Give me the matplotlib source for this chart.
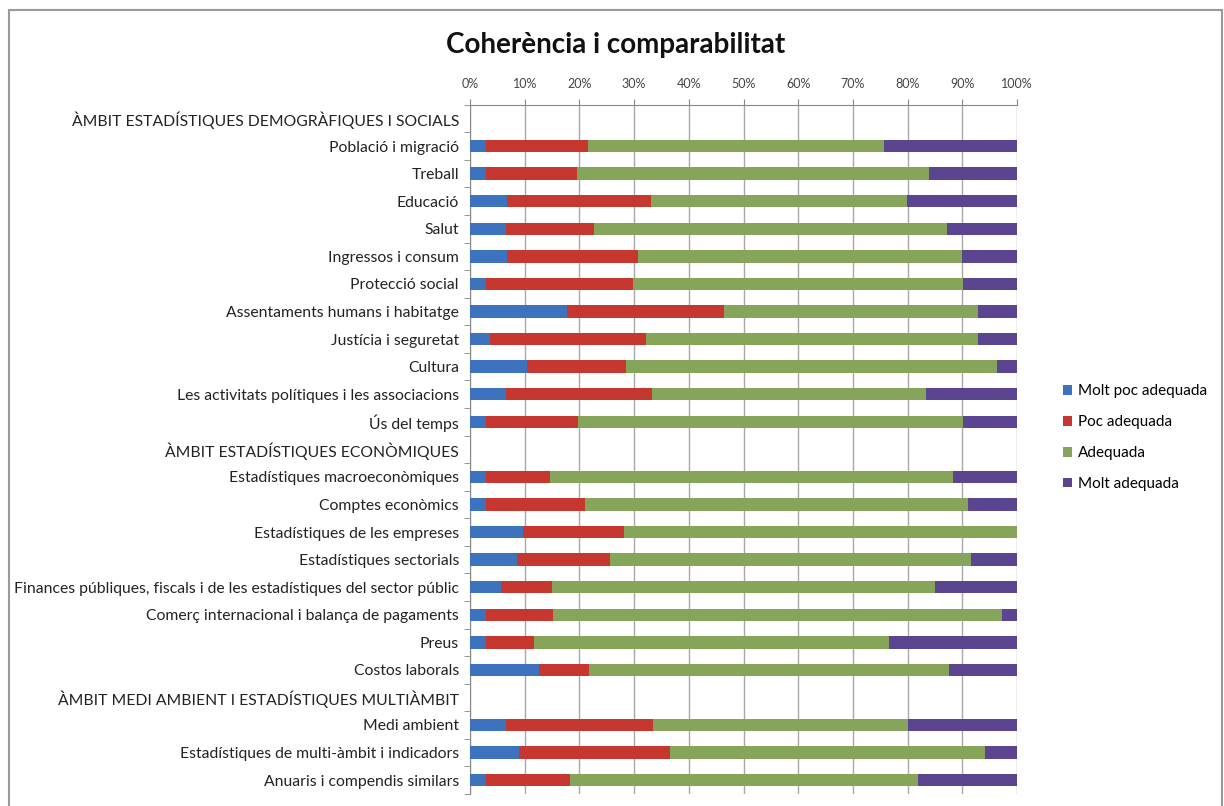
import numpy as np
import matplotlib.pyplot as plt
from matplotlib.patches import Rectangle

plt.rcParams['font.family'] = ['Lato', 'DejaVu Sans']

# rows top to bottom; headers have no bars (None)
categories = [
    "ÀMBIT ESTADÍSTIQUES DEMOGRÀFIQUES I SOCIALS",
    "Població i migració",
    "Treball",
    "Educació",
    "Salut",
    "Ingressos i consum",
    "Protecció social",
    "Assentaments humans i habitatge",
    "Justícia i seguretat",
    "Cultura",
    "Les activitats polítiques i les associacions",
    "Ús del temps",
    "ÀMBIT ESTADÍSTIQUES ECONÒMIQUES",
    "Estadístiques macroeconòmiques",
    "Comptes econòmics",
    "Estadístiques de les empreses",
    "Estadístiques sectorials",
    "Finances públiques, fiscals i de les estadístiques del sector públic",
    "Comerç internacional i balança de pagaments",
    "Preus",
    "Costos laborals",
    "ÀMBIT MEDI AMBIENT I ESTADÍSTIQUES MULTIÀMBIT",
    "Medi ambient",
    "Estadístiques de multi-àmbit i indicadors",
    "Anuaris i compendis similars",
]

molt_poc = [None, 2.9, 2.9, 6.8, 6.6, 6.8, 2.9, 17.8, 3.6, 10.5, 6.6, 2.9,
            None, 2.9, 2.9, 9.7, 8.5, 5.7, 2.9, 2.9, 12.6,
            None, 6.6, 8.9, 2.9]
poc = [None, 18.7, 16.7, 26.3, 16.0, 23.9, 26.9, 28.6, 28.5, 18.1, 26.6, 16.9,
       None, 11.7, 18.2, 18.4, 17.1, 9.3, 12.3, 8.8, 9.2,
       None, 26.8, 27.6, 15.4]
adequada = [None, 54.0, 64.3, 46.8, 64.5, 59.2, 60.3, 46.4, 60.7, 67.8, 50.2, 70.3,
            None, 73.7, 70.0, 71.9, 65.9, 70.0, 82.0, 64.8, 65.8,
            None, 46.7, 57.6, 63.5]
molt_adequada = [None, 24.4, 16.1, 20.1, 12.9, 10.1, 9.9, 7.2, 7.2, 3.6, 16.6, 9.9,
                 None, 11.7, 8.9, 0.0, 8.5, 15.0, 2.8, 23.5, 12.4,
                 None, 19.9, 5.9, 18.2]

series = ["Molt poc adequada", "Poc adequada", "Adequada", "Molt adequada"]
colors = ['#3C72BE', '#C6372F', '#86A45A', '#5B4490']

fig = plt.figure(figsize=(12.24, 8.06), dpi=100)
ax = fig.add_axes([0.384, 0.015, 0.447, 0.855])

y = np.arange(len(categories))
left = np.zeros(len(categories))
for name, vals, c in zip(series, [molt_poc, poc, adequada, molt_adequada], colors):
    v = np.array([np.nan if x is None else x for x in vals], dtype=float)
    ax.barh(y, v, left=left, height=0.45, color=c, label=name, zorder=3)
    left = left + np.nan_to_num(v)

ax.set_xlim(0, 100)
ax.set_ylim(len(categories) - 0.5, -0.5)
ax.set_xticks(np.arange(0, 101, 10))
ax.set_xticklabels([f"{t}%" for t in range(0, 101, 10)], fontsize=9, color='#444444')
ax.xaxis.tick_top()
ax.tick_params(axis='x', length=4, color='#888888', pad=7)
ax.grid(axis='x', color='#a8a8a8', linewidth=1, zorder=0)

ax.set_yticks(y)
ax.set_yticklabels(categories, fontsize=11.3, color='#222222')
ax.set_yticks(np.arange(-0.5, len(categories), 1), minor=True)
ax.tick_params(axis='y', which='major', length=0, pad=8)
ax.tick_params(axis='y', which='minor', length=4, color='#888888')

for s in ['right', 'bottom']:
    ax.spines[s].set_visible(False)
ax.spines['left'].set_color('#888888')
ax.spines['top'].set_color('#888888')

fig.text(0.503, 0.944, "Coherència i comparabilitat", ha='center', va='center',
         fontsize=20, fontweight='bold', color='#111111')

fig.legend(loc='center left', bbox_to_anchor=(0.857, 0.457), frameon=False,
           fontsize=11, handlelength=0.6, handleheight=0.6, handletextpad=0.4,
           labelspacing=1.1)

fig.patches.append(Rectangle((0.007, -0.01), 0.991, 0.998, transform=fig.transFigure,
                             fill=False, edgecolor='#9a9a9a', linewidth=1.5))

fig.savefig("out.png", dpi=100)
